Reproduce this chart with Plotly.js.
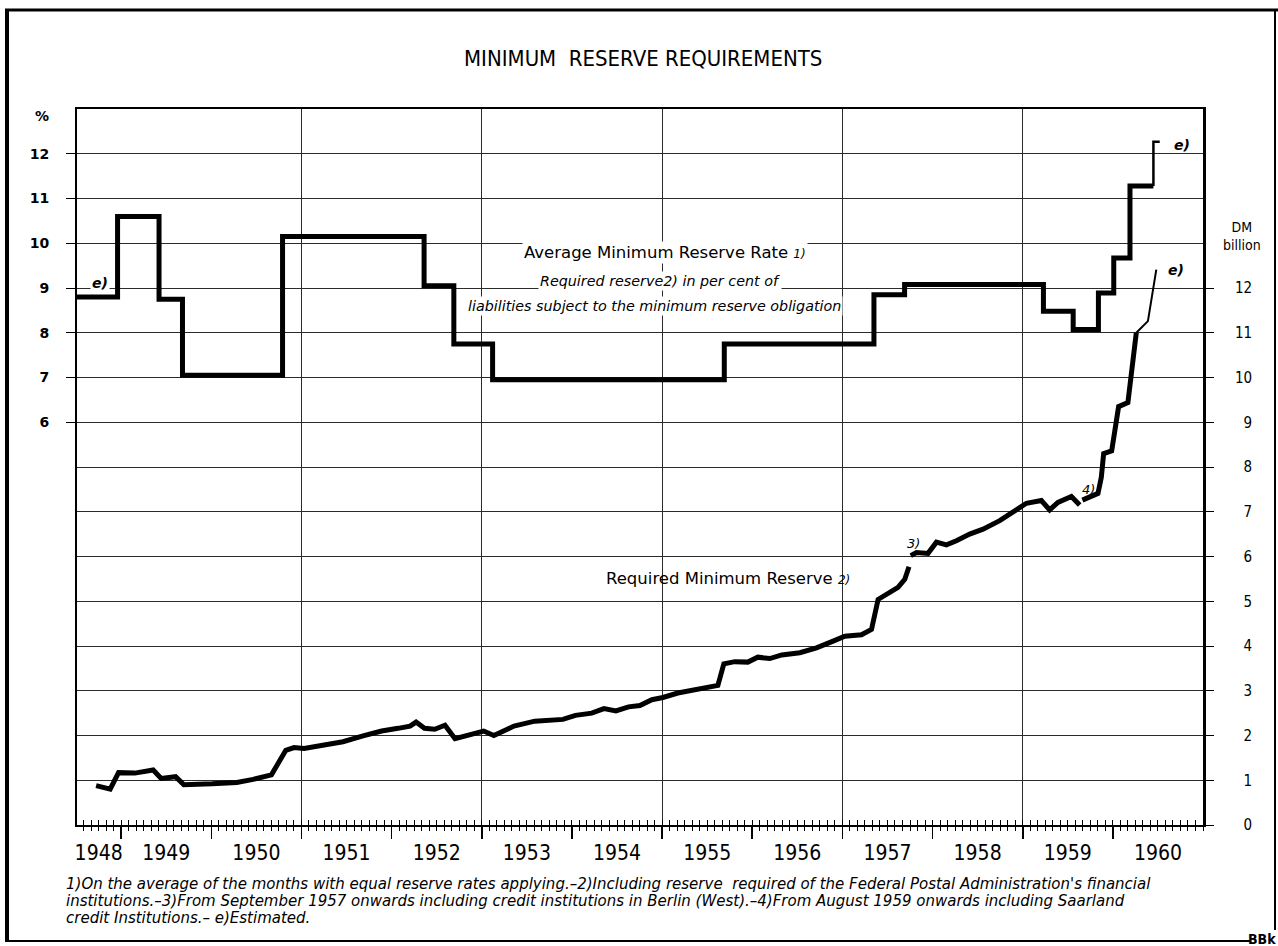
<!DOCTYPE html>
<html>
<head>
<meta charset="utf-8">
<script src="https://cdn.plot.ly/plotly-3.0.1.min.js"></script>
<style>html,body{margin:0;padding:0;background:#fff;}</style>
</head>
<body>
<div id="chart" style="width:1278px;height:946px"></div>
<script>
// ---------- DATA ----------
// Average minimum reserve rate (%), step starts (decimal years)
const rateYears  = [1948.51, 1948.96, 1949.42, 1949.68, 1950.79, 1952.36, 1952.69, 1953.12, 1955.69, 1957.35, 1957.69, 1959.23, 1959.56, 1959.84, 1960.01, 1960.19, 1960.45];
const rateValues = [8.8, 10.6, 8.75, 7.05, 10.15, 9.05, 7.75, 6.95, 7.75, 8.85, 9.08, 8.48, 8.07, 8.89, 9.67, 11.28, 11.28];
// Estimated part of the rate (e)
const rateEstYears  = [1960.45, 1960.45, 1960.52];
const rateEstValues = [11.28, 12.27, 12.27];

// Required minimum reserve (DM billion); null = break in the series (footnotes 3 and 4)
const reserveYears = [1948.722, 1948.856, 1948.878, 1948.971, 1949.152, 1949.355, 1949.443, 1949.604, 1949.695, 1950.009,
  1950.283, 1950.463, 1950.667, 1950.826, 1950.917, 1951.029, 1951.278, 1951.460, 1951.683, 1951.889,
  1952.071, 1952.204, 1952.271, 1952.365, 1952.478, 1952.592, 1952.703, 1952.858, 1953.021, 1953.134,
  1953.357, 1953.587, 1953.900, 1954.039, 1954.220, 1954.355, 1954.488, 1954.628, 1954.754, 1954.887,
  1955.009, 1955.175, 1955.308, 1955.475, 1955.619, 1955.685, 1955.807, 1955.951, 1956.062, 1956.195,
  1956.328, 1956.528, 1956.713, 1956.897, 1957.027, 1957.212, 1957.323, 1957.396, 1957.489, 1957.617,
  1957.692, 1957.739, null,
  1957.758, 1957.822, 1957.950, 1958.043, 1958.154, 1958.265, 1958.412, 1958.560, 1958.745, 1958.930,
  1959.041, 1959.207, 1959.299, 1959.391, 1959.540, 1959.632, null,
  1959.662, 1959.835, 1959.872, 1959.898, 1959.987, 1960.064, 1960.167, 1960.260];
const reserveValues = [0.88, 0.79, 0.80, 1.17, 1.16, 1.23, 1.04, 1.08, 0.90, 0.92,
  0.95, 1.02, 1.12, 1.67, 1.73, 1.71, 1.79, 1.86, 1.99, 2.10,
  2.16, 2.21, 2.30, 2.16, 2.14, 2.23, 1.93, 2.00, 2.10, 2.00,
  2.21, 2.32, 2.36, 2.45, 2.50, 2.60, 2.55, 2.64, 2.67, 2.80,
  2.85, 2.95, 3.00, 3.05, 3.12, 3.60, 3.65, 3.64, 3.75, 3.72,
  3.80, 3.85, 3.96, 4.11, 4.22, 4.25, 4.37, 5.04, 5.16, 5.31,
  5.49, 5.77, null,
  6.02, 6.09, 6.07, 6.32, 6.26, 6.35, 6.50, 6.61, 6.80, 7.04,
  7.19, 7.25, 7.04, 7.21, 7.34, 7.15, null,
  7.26, 7.41, 7.77, 8.30, 8.36, 9.35, 9.44, 11.00];
// Estimated part of the reserve (e)
const reserveEstYears  = [1960.260, 1960.389, 1960.482];
const reserveEstValues = [11.00, 11.26, 12.41];

// Axis ticks and labels
const yearLabels      = ["1948","1949","1950","1951","1952","1953","1954","1955","1956","1957","1958","1959","1960"];
const yearLabelPos    = [1948.75,1949.5,1950.5,1951.5,1952.5,1953.5,1954.5,1955.5,1956.5,1957.5,1958.5,1959.5,1960.5];
const yearBoundaries  = [1949,1950,1951,1952,1953,1954,1955,1956,1957,1958,1959,1960];
const gridYears       = [1951,1953,1955,1957,1959];
const pctTicks        = [6,7,8,9,10,11,12];
const pctLabels       = ["6","7","8","9","10","11","12"];
const dmTicks         = [0,1,2,3,4,5,6,7,8,9,10,11,12];
const dmLabels        = ["\u20070","\u20071","\u20072","\u20073","\u20074","\u20075","\u20076","\u20077","\u20078","\u20079","10","11","12"];

// ---------- LAYOUT HELPERS ----------
const FIG_W = 1278, FIG_H = 946;
const M = {l:77, r:75, t:109, b:121};
const PW = FIG_W - M.l - M.r, PH = FIG_H - M.t - M.b;
const px = x => (x - M.l) / PW;
const py = y => (FIG_H - M.b - y) / PH;

const COND = "DejaVu Sans Condensed, Liberation Sans Narrow, DejaVu Sans, sans-serif";
const SANS = "DejaVu Sans, sans-serif";
const BLACK = "#000";
const GRID = "#2b2b2b";
const xRange = [1948.51, 1961.0];

function ann(text, x, y, font, extra) {
  return Object.assign({
    text: text, xref: 'paper', yref: 'paper', x: px(x), y: py(y),
    showarrow: false, xanchor: 'left', yanchor: 'middle',
    font: Object.assign({family: SANS, size: 14, color: BLACK}, font || {})
  }, extra || {});
}

// ---------- TRACES ----------
const traces = [
  {x: rateYears, y: rateValues, xaxis: 'x', yaxis: 'y', mode: 'lines',
   line: {shape: 'hv', width: 5, color: BLACK}, hoverinfo: 'skip', showlegend: false},
  {x: rateEstYears, y: rateEstValues, xaxis: 'x', yaxis: 'y', mode: 'lines',
   line: {width: 2.5, color: BLACK}, hoverinfo: 'skip', showlegend: false},
  {x: reserveYears, y: reserveValues, xaxis: 'x', yaxis: 'y2', mode: 'lines', connectgaps: false,
   line: {width: 5, color: BLACK}, hoverinfo: 'skip', showlegend: false},
  {x: reserveEstYears, y: reserveEstValues, xaxis: 'x', yaxis: 'y2', mode: 'lines',
   line: {width: 2, color: BLACK}, hoverinfo: 'skip', showlegend: false},
  {x: [], y: [], xaxis: 'x2', yaxis: 'y', mode: 'lines', hoverinfo: 'skip', showlegend: false},
  {x: [], y: [], xaxis: 'x3', yaxis: 'y', mode: 'lines', hoverinfo: 'skip', showlegend: false},
  {x: [], y: [], xaxis: 'x4', yaxis: 'y', mode: 'lines', hoverinfo: 'skip', showlegend: false},
  {x: [], y: [], xaxis: 'x5', yaxis: 'y', mode: 'lines', hoverinfo: 'skip', showlegend: false}
];

const baseX = {range: xRange, fixedrange: true, zeroline: false, showgrid: false, showline: false,
               showticklabels: false, anchor: 'y', side: 'bottom'};

const layout = {
  width: FIG_W, height: FIG_H,
  margin: {l: M.l, r: M.r, t: M.t, b: M.b, pad: 0},
  paper_bgcolor: '#fff', plot_bgcolor: '#fff',
  showlegend: false,
  xaxis: Object.assign({}, baseX, {
    tickmode: 'array', tickvals: gridYears, ticks: '',
    showgrid: true, gridcolor: GRID, gridwidth: 1,
    showline: true, linecolor: BLACK, linewidth: 2, mirror: true
  }),
  xaxis2: Object.assign({}, baseX, {overlaying: 'x', tickmode: 'array', tickvals: yearBoundaries,
    ticks: 'outside', ticklen: 13, tickwidth: 1.6, tickcolor: BLACK}),
  xaxis3: Object.assign({}, baseX, {overlaying: 'x', tickmode: 'linear', tick0: 1949, dtick: 1/12,
    ticks: 'outside', ticklen: 5, tickwidth: 1, tickcolor: BLACK}),
  xaxis4: Object.assign({}, baseX, {overlaying: 'x', tickmode: 'linear', tick0: 1949, dtick: 1/12,
    ticks: 'inside', ticklen: 5, tickwidth: 1, tickcolor: BLACK}),
  xaxis5: Object.assign({}, baseX, {overlaying: 'x', tickmode: 'array', tickvals: yearLabelPos,
    ticktext: yearLabels, ticks: '', showticklabels: true, ticklabelstandoff: 13,
    tickfont: {family: COND, size: 21, color: BLACK}}),
  yaxis: {
    range: [-3, 13], fixedrange: true, zeroline: false,
    tickmode: 'array', tickvals: pctTicks, ticktext: pctLabels,
    ticks: 'outside', ticklen: 9, tickwidth: 1, tickcolor: BLACK,
    showgrid: true, gridcolor: GRID, gridwidth: 1,
    showline: true, linecolor: BLACK, linewidth: 2,
    ticklabelstandoff: 14,
    tickfont: {family: SANS, size: 14, color: BLACK, weight: 'bold'}
  },
  yaxis2: {
    range: [0, 16], fixedrange: true, zeroline: false,
    overlaying: 'y', side: 'right', anchor: 'x',
    tickmode: 'array', tickvals: dmTicks, ticktext: dmLabels,
    ticks: 'outside', ticklen: 8, tickwidth: 1, tickcolor: BLACK,
    showgrid: true, gridcolor: GRID, gridwidth: 1,
    showline: true, linecolor: BLACK, linewidth: 3,
    ticklabelstandoff: 18,
    tickfont: {family: COND, size: 15, color: BLACK}
  },
  shapes: [
    {type: 'line', xref: 'paper', yref: 'paper', x0: px(7), x1: px(7), y0: py(941), y1: py(10), line: {color: BLACK, width: 4}},
    {type: 'line', xref: 'paper', yref: 'paper', x0: px(5), x1: px(1278), y0: py(10), y1: py(10), line: {color: BLACK, width: 3}},
    {type: 'line', xref: 'paper', yref: 'paper', x0: px(1275), x1: px(1275), y0: py(930), y1: py(10), line: {color: BLACK, width: 2}},
    {type: 'line', xref: 'paper', yref: 'paper', x0: px(5), x1: px(1250), y0: py(941), y1: py(941), line: {color: BLACK, width: 2}}
  ],
  annotations: [
    ann('MINIMUM  RESERVE REQUIREMENTS', 643, 58, {family: COND, size: 22}, {xanchor: 'center'}),
    ann('%', 42, 116, {size: 14, weight: 'bold'}, {xanchor: 'center'}),
    ann('DM<br>billion', 1242, 236, {family: COND, size: 14}, {xanchor: 'center'}),
    ann('Average Minimum Reserve Rate <i><span style="font-size:12px">1)</span></i>', 522, 252,
        {size: 16.5}, {bgcolor: '#fff', borderpad: 1}),
    ann('<i>Required reserve2) in per cent of</i>', 538, 281, {size: 14.3}, {bgcolor: '#fff', borderpad: 1}),
    ann('<i>liabilities subject to the minimum reserve obligation</i>', 466, 306, {size: 14.3}, {bgcolor: '#fff', borderpad: 1}),
    ann('Required Minimum Reserve <i><span style="font-size:12px">2)</span></i>', 604, 578, {size: 16.5}),
    ann('<i>e)</i>', 90, 283, {size: 14, weight: 'bold'}, {bgcolor: '#fff'}),
    ann('<i>e)</i>', 1172, 145, {size: 14, weight: 'bold'}),
    ann('<i>e)</i>', 1166, 270, {size: 14, weight: 'bold'}),
    ann('<i>3)</i>', 905, 543, {size: 13}),
    ann('<i>4)</i>', 1080, 489, {size: 13}),
    ann("<i>1)On the average of the months with equal reserve rates applying.–2)Including reserve  required of the Federal Postal Administration's financial</i>",
        64, 884, {size: 15}),
    ann('<i>institutions.–3)From September 1957 onwards including credit institutions in Berlin (West).–4)From August 1959 onwards including Saarland</i>',
        64, 901, {size: 15}),
    ann('<i>credit Institutions.– e)Estimated.</i>', 64, 918, {size: 15}),
    ann('BBk', 1262, 939, {family: COND, size: 14, weight: 'bold'}, {xanchor: 'center'})
  ]
};

Plotly.newPlot('chart', traces, layout, {staticPlot: true, displayModeBar: false});
</script>
</body>
</html>
